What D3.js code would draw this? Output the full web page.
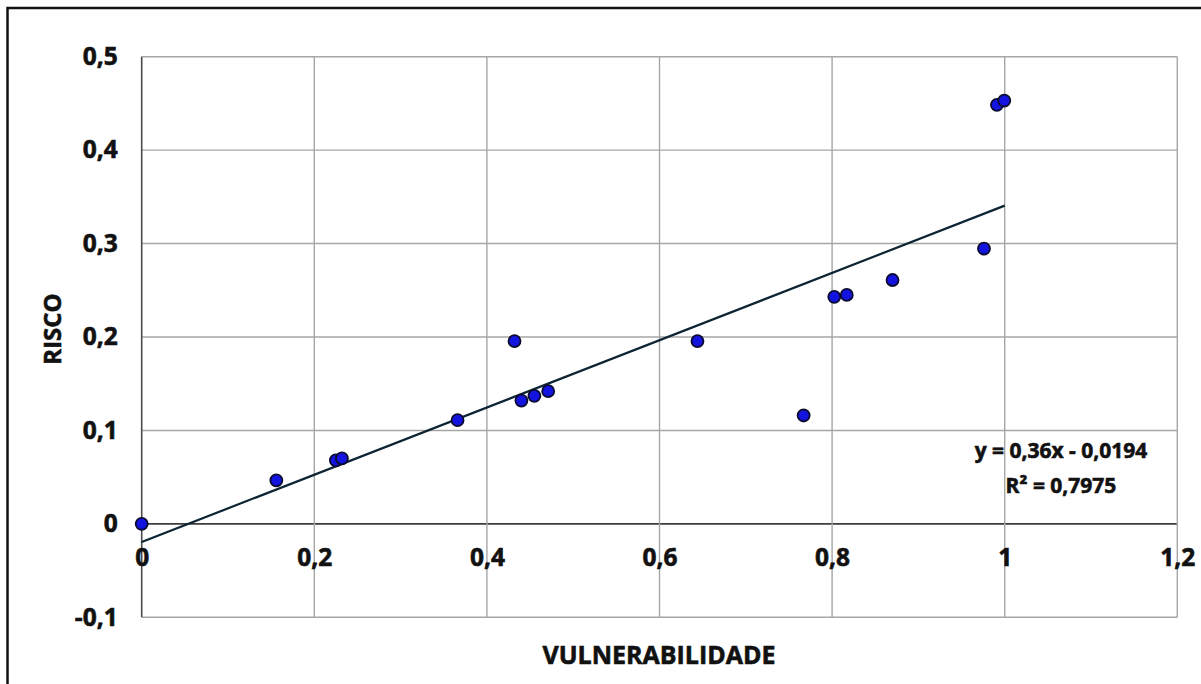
<!DOCTYPE html>
<html>
<head>
<meta charset="utf-8">
<script src="https://cdn.jsdelivr.net/npm/d3@7"></script>
<style>
  html, body { margin: 0; padding: 0; background: #fff; }
  svg { display: block; }
  text { font-family: "Open Sans", "Liberation Sans", sans-serif; font-weight: 700; fill: #111; stroke: #111; stroke-width: 0.6px; }
</style>
</head>
<body>
<svg id="chart" width="1201" height="684"></svg>
<script>
// ---- data ----
const vulnerabilidade = [0, 0.156, 0.225, 0.232, 0.366, 0.432, 0.44, 0.455, 0.471, 0.644, 0.767, 0.8025, 0.817, 0.870, 0.976, 0.991, 0.9995];
const risco           = [0, 0.0466, 0.068, 0.070, 0.111, 0.1956, 0.132, 0.137, 0.142, 0.1956, 0.116, 0.243, 0.245, 0.261, 0.2945, 0.4485, 0.453];
const xTicks = [0, 0.2, 0.4, 0.6, 0.8, 1, 1.2];
const yTicks = [-0.1, 0, 0.1, 0.2, 0.3, 0.4, 0.5];
const trendSlope = 0.36;
const trendIntercept = -0.0194;
const trendRange = [0, 1];
const equationLines = ["y = 0,36x - 0,0194", "R² = 0,7975"];
const xTitle = "VULNERABILIDADE";
const yTitle = "RISCO";

// ---- layout ----
const svg = d3.select("#chart");
const x = d3.scaleLinear().domain([0, 1.2]).range([141.7, 1177.3]);
const y = d3.scaleLinear().domain([-0.1, 0.5]).range([617.3, 56.7]);
const fmt = d => String(d).replace(".", ",");

// outer frame
svg.append("rect")
  .attr("x", 7.5).attr("y", 8).attr("width", 1260).attr("height", 720)
  .attr("fill", "none").attr("stroke", "#111").attr("stroke-width", 2.5);

// grid
const grid = svg.append("g");
grid.selectAll("line.h").data(yTicks).join("line")
  .attr("x1", x(0)).attr("x2", x(1.2))
  .attr("y1", d => y(d)).attr("y2", d => y(d))
  .attr("stroke", d => d === 0 ? "#3c3c3c" : "#a6a6a6")
  .attr("stroke-width", d => d === 0 ? 1.8 : 1.4);
grid.selectAll("line.v").data(xTicks).join("line")
  .attr("y1", y(-0.1)).attr("y2", y(0.5))
  .attr("x1", d => x(d)).attr("x2", d => x(d))
  .attr("stroke", d => d === 0 ? "#4a4a4a" : "#a6a6a6")
  .attr("stroke-width", d => d === 0 ? 1.6 : 1.4);

// axes (labels only)
const yAxis = svg.append("g").attr("transform", `translate(${x(0)},0)`)
  .call(d3.axisLeft(y).tickValues(yTicks).tickFormat(fmt).tickSize(0).tickPadding(24));
yAxis.select(".domain").remove();
yAxis.selectAll("text").attr("font-size", 24.5).attr("fill", "#111")
  .style("font-family", '"Open Sans", sans-serif').style("font-weight", 700)
  .style("stroke", "#111").style("stroke-width", "0.6px");

const xAxis = svg.append("g").attr("transform", `translate(0,${y(0)})`)
  .call(d3.axisBottom(x).tickValues(xTicks).tickFormat(fmt).tickSize(0).tickPadding(25));
xAxis.select(".domain").remove();
xAxis.selectAll("text").attr("font-size", 24.5).attr("fill", "#111")
  .style("font-family", '"Open Sans", sans-serif').style("font-weight", 700)
  .style("stroke", "#111").style("stroke-width", "0.6px");

// trend line
svg.append("line")
  .attr("x1", x(trendRange[0])).attr("y1", y(trendSlope * trendRange[0] + trendIntercept))
  .attr("x2", x(trendRange[1])).attr("y2", y(trendSlope * trendRange[1] + trendIntercept))
  .attr("stroke", "#0d2433").attr("stroke-width", 2.2);

// points
svg.append("g").selectAll("circle").data(vulnerabilidade).join("circle")
  .attr("cx", d => x(d))
  .attr("cy", (d, i) => y(risco[i]))
  .attr("r", 6)
  .attr("fill", "#1414e0")
  .attr("stroke", "#0a0a30")
  .attr("stroke-width", 1.8);

// equation
svg.append("g").selectAll("text").data(equationLines).join("text")
  .attr("x", 1061).attr("y", (d, i) => 458 + i * 35)
  .attr("text-anchor", "middle").attr("font-size", 21)
  .text(d => d);

// axis titles
svg.append("text").attr("x", 659).attr("y", 664)
  .attr("text-anchor", "middle").attr("font-size", 25)
  .text(xTitle);
svg.append("text")
  .attr("transform", "translate(61,329) rotate(-90)")
  .attr("text-anchor", "middle").attr("font-size", 24)
  .text(yTitle);
</script>
</body>
</html>
